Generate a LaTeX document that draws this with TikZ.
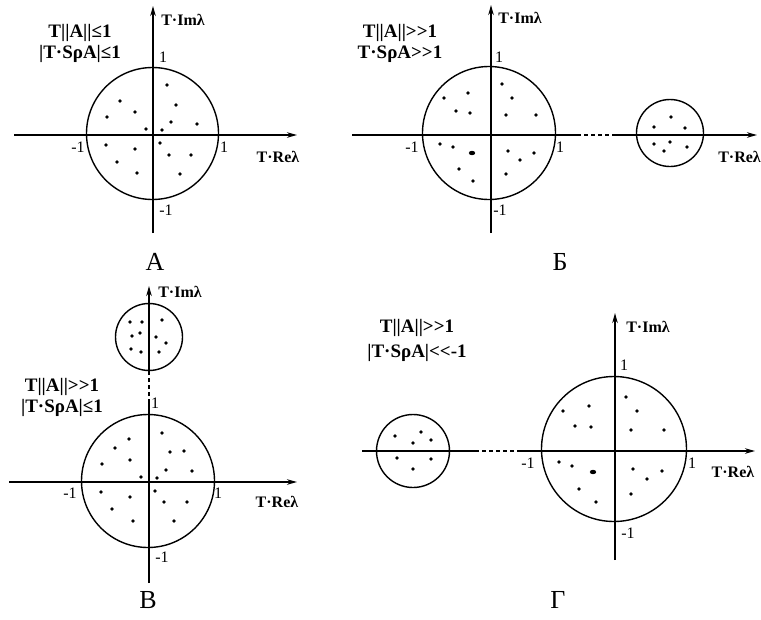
\documentclass[tikz,border=0pt]{standalone}
\usepackage{fontspec}
\setmainfont{Liberation Serif}
\usetikzlibrary{arrows.meta}
\begin{document}
\begin{tikzpicture}[x=1pt,y=-1pt,
  axisline/.style={line width=1.5pt},
  axis/.style={line width=1.5pt,-{Stealth[length=10pt,width=5.5pt]}},
  ring/.style={draw,circle,line width=1.4pt,inner sep=0pt},
  gap/.style={line width=1.5pt,dash pattern=on 4pt off 3pt},
  cond/.style={font=\fontsize{19}{21}\selectfont\bfseries,align=center},
  axlab/.style={font=\fontsize{16}{18}\selectfont\bfseries},
  num/.style={font=\fontsize{16}{18}\selectfont},
  panel/.style={font=\fontsize{26}{28}\selectfont}
]
\useasboundingbox (0,0) rectangle (761,619);

% ---------------- Panel A ----------------
\coordinate (A-w) at (14,135);  \coordinate (A-e) at (297,135);
\coordinate (A-s) at (153,233); \coordinate (A-n) at (153,6);
\draw[axis] (A-w) -- (A-e);
\draw[axis] (A-s) -- (A-n);
\node[ring,minimum size=132pt] (A-c) at (152.5,133.5) {};
\node[num] (A-1t) at (163,57) {1};
\node[num] (A-1l) at (78,147) {-1};
\node[num] (A-1r) at (224,147) {1};
\node[num] (A-1b) at (166,210) {-1};
\node[axlab] (A-im) at (183,20) {T·Imλ};
\node[axlab] (A-re) at (278,157) {T·Reλ};
\node[cond] (A-cond) at (80,43) {T||A||≤1\\|T·SρA|≤1};
\node[panel] (A-lab) at (155,262) {А};
\foreach \p in {(167,85),(176,105),(120,101),(135,112),(107,117),(171,122),(197,124),(146,129),(162,130),(160,143),(106,145),(135,149),(169,155),(191,155),(117,162),(137,173),(180,174)}
  \fill \p circle (1.9pt);

% ---------------- Panel B (Б) ----------------
\coordinate (B-w) at (352,135);  \coordinate (B-d1) at (577,135);
\coordinate (B-d2) at (615,135); \coordinate (B-e) at (757,135);
\coordinate (B-s) at (491,233);  \coordinate (B-n) at (491,5);
\draw[axisline] (B-w) -- (B-d1);
\draw[gap] (B-d1) -- (B-d2);
\draw[axis] (B-d2) -- (B-e);
\draw[axis] (B-s) -- (B-n);
\node[ring,minimum size=133pt] (B-c) at (489,133) {};
\node[ring,minimum size=67pt] (B-c2) at (670,133) {};
\node[num] (B-1t) at (499,57) {1};
\node[num] (B-1l) at (412,147) {-1};
\node[num] (B-1r) at (560,147) {1};
\node[num] (B-1b) at (500,210) {-1};
\node[axlab] (B-im) at (520,18) {T·Imλ};
\node[axlab,anchor=east,inner sep=0pt] (B-re) at (761,157) {T·Reλ};
\node[cond] (B-cond) at (400,43) {T||A||>{}>1\\T·SρA>{}>1};
\node[panel] (B-lab) at (560,262) {Б};
\foreach \p in {(502,84),(468,93),(444,98),(512,98),(456,111),(470,113),(506,115),(536,115),(440,144),(453,147),(508,151),(534,153),(520,160),(459,169),(506,174),(473,181),
  (671,117),(654,127),(685,128),(654,144),(670,142),(687,147),(664,151)}
  \fill \p circle (1.9pt);
\fill (472,153) ellipse (3.2pt and 2.2pt);

% ---------------- Panel V (В) ----------------
\coordinate (V-w) at (9,482);    \coordinate (V-e) at (297,482);
\coordinate (V-s) at (149,583);  \coordinate (V-d1) at (149,403);
\coordinate (V-d2) at (149,371); \coordinate (V-n) at (149,286);
\draw[axis] (V-w) -- (V-e);
\draw[axisline] (V-s) -- (V-d1);
\draw[gap] (V-d1) -- (V-d2);
\draw[axis] (V-d2) -- (V-n);
\node[ring,minimum size=133pt] (V-c) at (148,481) {};
\node[ring,minimum size=67pt] (V-c2) at (149,337) {};
\node[num] (V-1t) at (155,403) {1};
\node[num] (V-1l) at (70,493) {-1};
\node[num] (V-1r) at (218,493) {1};
\node[num] (V-1b) at (162,557) {-1};
\node[axlab] (V-im) at (180,292) {T·Imλ};
\node[axlab] (V-re) at (277,502) {T·Reλ};
\node[cond] (V-cond) at (62,397) {T||A||>{}>1\\|T·SρA|≤1};
\node[panel] (V-lab) at (148,600) {В};
\foreach \p in {(130,322),(142,322),(162,320),(132,336),(140,333),(156,337),(166,343),(131,349),(141,352),(159,352),
  (162,433),(129,439),(115,448),(170,452),(184,451),(130,460),(102,464),(166,470),(192,471),(141,477),(157,478),(155,491),(101,492),(130,497),(164,502),(187,502),(112,509),(133,521),(174,521)}
  \fill \p circle (1.9pt);

% ---------------- Panel G (Г) ----------------
\coordinate (G-w) at (362,451);  \coordinate (G-d1) at (475,451);
\coordinate (G-d2) at (517,451); \coordinate (G-e) at (755,451);
\coordinate (G-s) at (615,560);  \coordinate (G-n) at (615,313);
\draw[axisline] (G-w) -- (G-d1);
\draw[gap] (G-d1) -- (G-d2);
\draw[axis] (G-d2) -- (G-e);
\draw[axis] (G-s) -- (G-n);
\node[ring,minimum size=145pt] (G-c) at (614,449) {};
\node[ring,minimum size=73pt] (G-c2) at (413,451) {};
\node[num] (G-1t) at (624,365) {1};
\node[num] (G-1l) at (528,463) {-1};
\node[num] (G-1r) at (692,463) {1};
\node[num] (G-1b) at (628,533) {-1};
\node[axlab] (G-im) at (648,327) {T·Imλ};
\node[axlab] (G-re) at (733,472) {T·Reλ};
\node[cond,font=\fontsize{19}{25}\selectfont\bfseries] (G-cond) at (417,340) {T||A||>{}>1\\|T·SρA|<{}<-1};
\node[panel] (G-lab) at (558,600) {Г};
\foreach \p in {(395,436),(421,432),(413,443),(431,440),(397,458),(431,459),(413,469),
  (626,397),(589,406),(563,411),(637,411),(575,426),(591,427),(631,430),(664,430),(559,462),(572,466),(633,469),(662,471),(647,479),(579,489),(631,494),(596,502)}
  \fill \p circle (1.9pt);
\fill (593,472) ellipse (3.2pt and 2.2pt);
\end{tikzpicture}
\end{document}
